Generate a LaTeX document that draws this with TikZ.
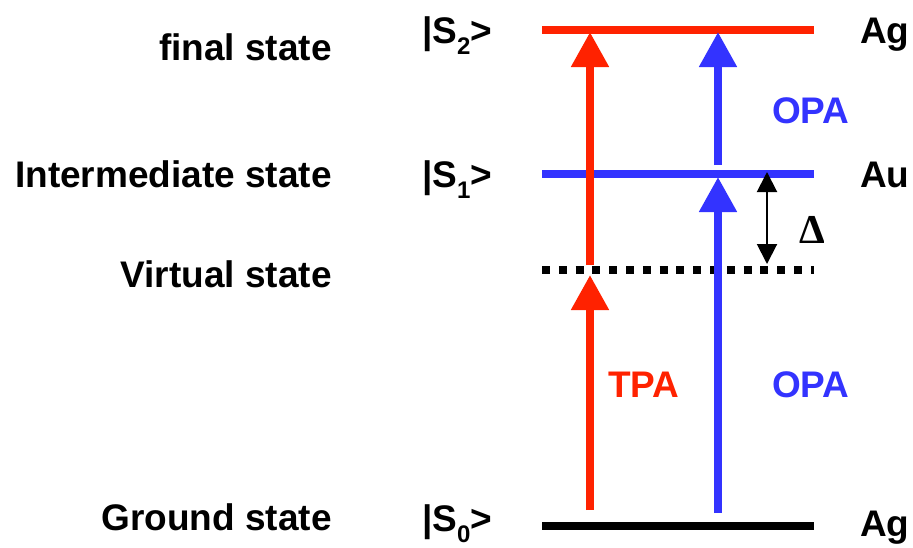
\documentclass[tikz,border=0pt]{standalone}
\usepackage{fontspec}
\setmainfont{Liberation Sans}
\newfontfamily\deltafont{Liberation Serif}
\usetikzlibrary{arrows.meta}
\definecolor{myred}{RGB}{255,34,0}
\definecolor{myblue}{RGB}{51,51,255}
\newcommand{\myket}[1]{|S\raisebox{-11pt}[\height][0pt]{\fontsize{24}{24}\selectfont #1}>}
\begin{document}
\begin{tikzpicture}[x=1pt,y=-1pt,
  lbl/.style={font=\fontsize{37}{44}\selectfont\bfseries, inner sep=0pt},
  levelline/.style={line width=8pt},
  bigarrow/.style={line width=8pt, -{Triangle[length=35pt,width=36pt]}},
  deltaarrow/.style={line width=2pt, {Triangle[length=20pt,width=20pt]}-{Triangle[length=20pt,width=20pt]}}]
\useasboundingbox (0,0) rectangle (913,547);
% level end points
\coordinate (s2L) at (542,30);  \coordinate (s2R) at (814,30);
\coordinate (s1L) at (542,174); \coordinate (s1R) at (814,174);
\coordinate (vL) at (542,270);  \coordinate (vR) at (814,270);
\coordinate (s0L) at (542,526); \coordinate (s0R) at (814,526);
% arrow end points
\coordinate (r1) at (590,510); \coordinate (r2) at (590,275);
\coordinate (r3) at (590,265); \coordinate (r4) at (590,32);
\coordinate (b1) at (718,513); \coordinate (b2) at (718,177);
\coordinate (b3) at (718,165); \coordinate (b4) at (718,32);
\coordinate (d1) at (767,172); \coordinate (d2) at (767,264);
% levels
\draw[levelline, myred] (s2L) -- (s2R);
\draw[levelline, myblue] (s1L) -- (s1R);
\draw[levelline, black, dash pattern=on 8pt off 8.8pt] (vL) -- (vR);
\draw[levelline, black] (s0L) -- (s0R);
% arrows
\draw[bigarrow, myred] (r1) -- (r2);
\draw[bigarrow, myred] (r3) -- (r4);
\draw[bigarrow, myblue] (b1) -- (b2);
\draw[bigarrow, myblue] (b3) -- (b4);
\draw[deltaarrow] (d1) -- (d2);
% left labels
\node[lbl, anchor=base east] (final) at (332,60) {final state};
\node[lbl, anchor=base east] (inter) at (332,187) {Intermediate state};
\node[lbl, anchor=base east] (virt) at (332,287) {Virtual state};
\node[lbl, anchor=base east] (ground) at (332,530) {Ground state};
% kets
\node[lbl, anchor=base west] (k2) at (422,43) {\myket{2}};
\node[lbl, anchor=base west] (k1) at (422,187) {\myket{1}};
\node[lbl, anchor=base west] (k0) at (422,531) {\myket{0}};
% right labels
\node[lbl, anchor=base west] (ag2) at (860,43) {Ag};
\node[lbl, anchor=base west] (au1) at (860,187) {Au};
\node[lbl, anchor=base west] (ag0) at (860,536) {Ag};
% transition labels
\node[lbl, anchor=base west, text=myblue] (opaU) at (772,123) {OPA};
\node[lbl, anchor=base west, text=myred] (tpa) at (608,397) {TPA};
\node[lbl, anchor=base west, text=myblue] (opaL) at (772,397) {OPA};
\node[lbl, anchor=base west, font=\fontsize{41}{44}\selectfont\deltafont\bfseries] (delta) at (799,243) {Δ};
\end{tikzpicture}
\end{document}
